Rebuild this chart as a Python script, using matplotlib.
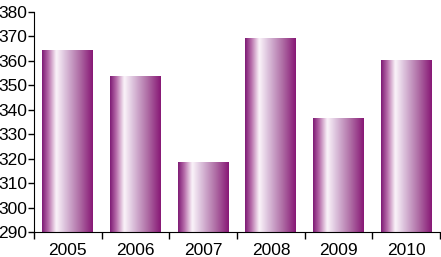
import numpy as np
import matplotlib
matplotlib.use('Agg')
import matplotlib.pyplot as plt
from matplotlib.colors import LinearSegmentedColormap

years = ['2005', '2006', '2007', '2008', '2009', '2010']
values = [364, 353.5, 318.5, 369, 336.5, 360]
yticks = list(range(290, 381, 10))

plt.rcParams['font.family'] = ['Liberation Sans Narrow', 'Liberation Sans', 'DejaVu Sans']

# left dark purple -> white -> lavender -> dark magenta
grad = LinearSegmentedColormap.from_list('bar', [
    (0.00, '#7d1a74'),
    (0.12, '#b56aa8'),
    (0.28, '#fbf4fa'),
    (0.45, '#dcc2dc'),
    (0.75, '#ad6aa3'),
    (1.00, '#871775'),
])

fig = plt.figure(figsize=(4.41, 2.57), dpi=100)
ax = fig.add_axes([0.077, 0.097, 0.921, 0.858])

x = np.arange(len(years))
bars = ax.bar(x, values, width=0.75, color='none', edgecolor='none')
g = np.linspace(0, 1, 256).reshape(1, -1)
for b in bars:
    x0, w = b.get_x(), b.get_width()
    ax.imshow(g, cmap=grad, aspect='auto', extent=[x0, x0 + w, 290, b.get_height()],
              zorder=2, interpolation='bicubic')

ax.set_xlim(-0.5, len(years) - 0.5)
ax.set_ylim(290, 380)
ax.set_yticks(yticks)
ax.set_xticks(x)
ax.set_xticklabels(years)
ax.set_xticks(np.arange(-0.5, len(years), 1), minor=True)
ax.tick_params(axis='x', which='major', length=0, labelsize=12.5, pad=8)
ax.tick_params(axis='x', which='minor', length=5, width=1, direction='out')
ax.tick_params(axis='y', length=4, width=1, labelsize=12.5, pad=1)
for s in ['top', 'right']:
    ax.spines[s].set_visible(False)

fig.savefig('out.png', dpi=100)
